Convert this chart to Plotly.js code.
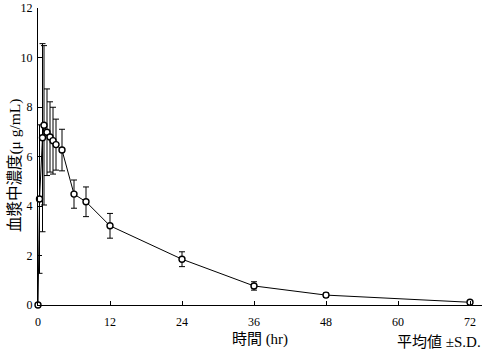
<!DOCTYPE html>
<html>
<head>
<meta charset="utf-8">
<script src="https://cdn.plot.ly/plotly-3.0.1.min.js"></script>
<style>html,body{margin:0;padding:0;background:#fff;}#chart{width:483px;height:354px;}</style>
</head>
<body>
<div id="chart"></div>
<script>
var times = [0, 0.25, 0.75, 1, 1.5, 2, 2.5, 3, 4, 6, 8, 12, 24, 36, 48, 72];
var meanConc = [0, 4.28, 6.76, 7.26, 6.98, 6.79, 6.64, 6.48, 6.26, 4.48, 4.17, 3.2, 1.85, 0.77, 0.4, 0.11];
var sdConc = [0, 3.0, 3.8, 3.22, 1.75, 1.42, 1.35, 1.03, 0.84, 0.57, 0.6, 0.5, 0.3, 0.17, 0.09, 0.03];
var xTicks = [0, 12, 24, 36, 48, 60, 72];
var yTicks = [0, 2, 4, 6, 8, 10, 12];

var serif = 'Liberation Serif, "Times New Roman", serif';
var cjk = 'Liberation Serif, "Noto Sans CJK JP", serif';

var trace = {
  x: times, y: meanConc, type: 'scatter', mode: 'lines+markers',
  line: {color: '#000', width: 1},
  marker: {symbol: 'circle', size: 6, color: '#fff', line: {color: '#000', width: 1.4}},
  error_y: {type: 'data', array: sdConc, visible: true, color: '#000', thickness: 1, width: 3},
  cliponaxis: false
};

var layout = {
  width: 483, height: 354,
  margin: {l: 38, r: 1, t: 8, b: 49},
  paper_bgcolor: '#fff', plot_bgcolor: '#fff',
  showlegend: false,
  font: {family: serif, color: '#000', size: 12},
  xaxis: {
    range: [0, 74], tickvals: xTicks, ticktext: xTicks.map(String),
    ticks: 'inside', ticklen: 4, tickcolor: '#000', tickwidth: 1,
    showline: true, linecolor: '#000', linewidth: 1, showgrid: false, zeroline: false,
    tickfont: {family: serif, size: 12, color: '#000'},
    ticklabelstandoff: 6,
    title: {text: '時間 (hr)', font: {family: cjk, size: 15, color: '#000'}, standoff: 5}
  },
  yaxis: {
    range: [0, 12], tickvals: yTicks, ticktext: yTicks.map(String),
    ticks: 'inside', ticklen: 4, tickcolor: '#000', tickwidth: 1,
    showline: true, linecolor: '#000', linewidth: 1, showgrid: false, zeroline: false,
    tickfont: {family: serif, size: 12, color: '#000'},
    ticklabelstandoff: 2
  },
  annotations: [{
    text: '平均値 ±S.D.', xref: 'paper', yref: 'paper', x: 1.0, y: 0,
    xanchor: 'right', yanchor: 'top', yshift: -27, xshift: 1, showarrow: false,
    font: {family: cjk, size: 15, color: '#000'}
  }, {
    text: '血漿中濃度(μ g/mL)', xref: 'paper', yref: 'paper', x: 0, y: 0.471,
    xanchor: 'center', yanchor: 'middle', xshift: -23, textangle: -90, showarrow: false,
    font: {family: cjk, size: 15.5, color: '#000'}
  }]
};

Plotly.newPlot('chart', [trace], layout, {displayModeBar: false, staticPlot: true});
</script>
</body>
</html>
